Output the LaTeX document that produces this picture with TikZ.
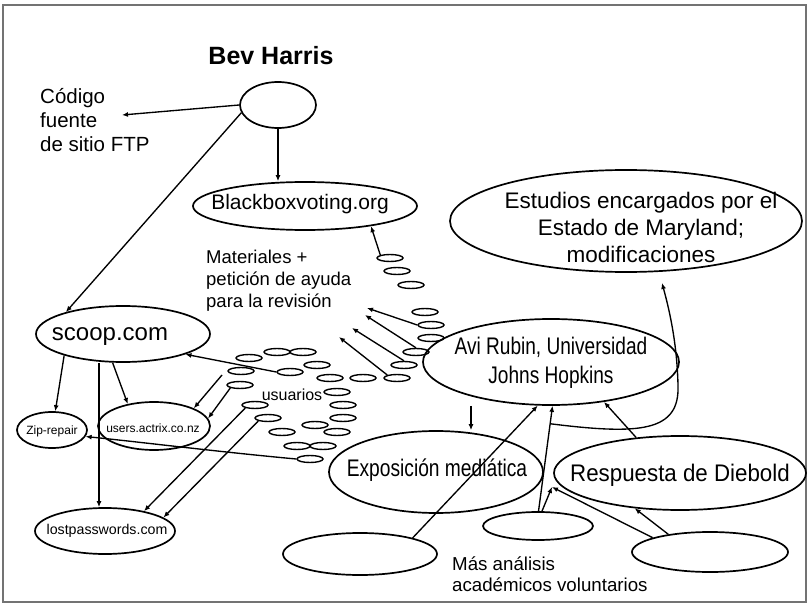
\documentclass[tikz,border=0pt]{standalone}
\usepackage{fontspec}
\setmainfont{Liberation Sans}
\usetikzlibrary{shapes.geometric,arrows.meta,calc}
\tikzset{
  ell/.style={ellipse, draw, line width=1.7pt, inner sep=0pt},
  sm/.style={ellipse, draw, line width=1.4pt, inner sep=0pt, minimum width=26pt, minimum height=7pt},
  txt/.style={inner sep=0pt, align=center},
  arr/.style={line width=1.35pt, -{Latex[length=6pt,width=5pt]}},
  frame/.style={line width=2.2pt, draw=black!55},
}
\newcommand{\fsz}[2]{\fontsize{#1}{#2}\selectfont}
\newcommand{\nar}[2]{\scalebox{#1}[1]{#2}}
\begin{document}
\begin{tikzpicture}[x=1pt,y=-1pt]
\useasboundingbox (0,0) rectangle (809,607);
\draw[frame] (3,5) rectangle (806,602);

% main nodes
\node[txt,font=\bfseries\fsz{25}{30}] (bevt) at (271,56) {Bev Harris};
\node[ell,minimum width=76pt,minimum height=46pt] (bev) at (278,105) {};
\node[txt,align=left,anchor=west,font=\fsz{20.5}{24}] (code) at (40,120) {Código\\fuente\\de sitio FTP};
\coordinate (codeend) at (122,115);

\node[ell,minimum width=224pt,minimum height=48pt] (bbv) at (305,206) {};
\node[txt,font=\fsz{21}{25}] (bbvt) at (300,204) {Blackboxvoting.org};

\node[txt,align=left,anchor=west,font=\fsz{18.5}{22}] (mat) at (206,281) {Materiales +\\petición de ayuda\\para la revisión};

\node[ell,minimum width=352pt,minimum height=102pt] (est) at (626,221) {};
\node[txt,font=\fsz{22.5}{27}] (estt) at (641,227) {Estudios encargados por el\\Estado de Maryland;\\modificaciones};

\node[ell,minimum width=174pt,minimum height=56pt] (scoop) at (123,334) {};
\node[txt,font=\fsz{24}{28}] (scoopt) at (110,337) {scoop.com};

\node[ell,minimum width=70pt,minimum height=36pt] (zip) at (52,430) {};
\node[txt,font=\fsz{12}{14}] (zipt) at (52,431) {Zip-repair};

\node[ell,minimum width=112pt,minimum height=48pt] (actrix) at (154,426) {};
\node[txt,font=\fsz{12}{14}] (actrixt) at (153,428) {users.actrix.co.nz};

\node[ell,minimum width=140pt,minimum height=46pt] (lost) at (105,531) {};
\node[txt,font=\fsz{14.2}{16}] (lostt) at (107,531) {lostpasswords.com};

\node[ell,minimum width=256pt,minimum height=86pt] (avi) at (551,362) {};
\node[txt,font=\fsz{24}{29}] (avit) at (551,363) {\nar{0.795}{Avi Rubin, Universidad}\\\nar{0.795}{Johns Hopkins}};

\node[ell,minimum width=214pt,minimum height=82pt] (expo) at (436,472) {};
\node[txt,font=\fsz{24}{28}] (expot) at (437,470) {\nar{0.8}{Exposición mediática}};

\node[ell,minimum width=252pt,minimum height=74pt] (resp) at (680,473) {};
\node[txt,font=\fsz{24}{28}] (respt) at (680,475) {\nar{0.93}{Respuesta de Diebold}};

\node[ell,minimum width=154pt,minimum height=42pt] (lb) at (360,554) {};
\node[ell,minimum width=110pt,minimum height=28pt] (mb) at (538,526) {};
\node[ell,minimum width=156pt,minimum height=40pt] (rb) at (710,552) {};

\node[txt,align=left,anchor=west,font=\fsz{18.7}{21}] (mas) at (452,574) {Más análisis\\académicos voluntarios};
\node[txt,font=\fsz{16}{18}] (usu) at (292,395) {usuarios};

% small ellipses
\foreach \n/\x/\y in {c1/390/258, c2/397/271, c3/411/285, c4/425/312, c5/431/325, c6/431/338,
  c7/416/352, c8/404/365, c9/397/378, c10/363/378, c11/330/378,
  d1/277/352, d2/303/352, d3/249/358, d4/317/365, d5/241/371, d6/290/372, d7/240/385,
  d8/337/392, d9/343/405, d10/255/405, d11/268/418, d12/343/418, d13/315/425, d14/282/432,
  d15/337/432, d16/297/446, d17/323/446, d18/310/459}
  \node[sm] (\n) at (\x,\y) {};

% connectors
\draw[arr] (bev.180) -- (codeend);
\draw[arr] (bev.192) -- (scoop.159);
\draw[arr] (bev.south) -- (bev.south |- bbv.north);
\draw[arr] (c1.north west) -- (bbv.-17);

\coordinate (m1) at (367,308);
\coordinate (m2) at (365,315);
\coordinate (m3) at (352,328);
\coordinate (m4) at (339,337);
\draw[arr] (c5.west) -- (m1);
\draw[arr] (c7.north) -- (m2);
\draw[arr] (c8.north) -- (m3);
\draw[arr] (c9.north west) -- (m4);

\draw[arr] (d6.west) -- (scoop.-18);
\coordinate (a0) at (222,375);
\draw[arr] (a0) -- (actrix.24);
\draw[arr] (d7.south west) -- (actrix.8);
\draw[arr] (d10.south west) -- (lost.27);
\draw[arr] (d11.south west) -- (lost.13);
\draw[arr] (d18.west) .. controls (220,452) and (140,442) .. (zip.-11);

\draw[arr] (scoop.200) -- (zip.80);
\coordinate (vx) at (99,0);
\draw[arr] (scoop.south -| vx) -- (lost.north -| vx);
\draw[arr] (scoop.250) -- (actrix.140);

\coordinate (vx2) at (471,0);
\draw[arr] (avi.south -| vx2) -- (expo.north -| vx2);
\draw[arr] (lb.17) -- (avi.253);
\draw[arr] (mb.88) -- (avi.272);
\coordinate (meet) at (552,487);
\draw[arr] (mb.75) -- (meet);
\draw[arr] (rb.166) -- (meet);
\draw[arr] (rb.157) -- (resp.218);
\draw[arr] (resp.141) -- (avi.-37);
\coordinate (cv) at ($(mb.88)!0.83!(avi.272)$);
\coordinate (esttip) at (662,283);
\draw[arr] (cv) .. controls (640,435) and (680,432) .. (678,385) .. controls (677,340) and (668,305) .. (esttip);
\end{tikzpicture}
\end{document}
